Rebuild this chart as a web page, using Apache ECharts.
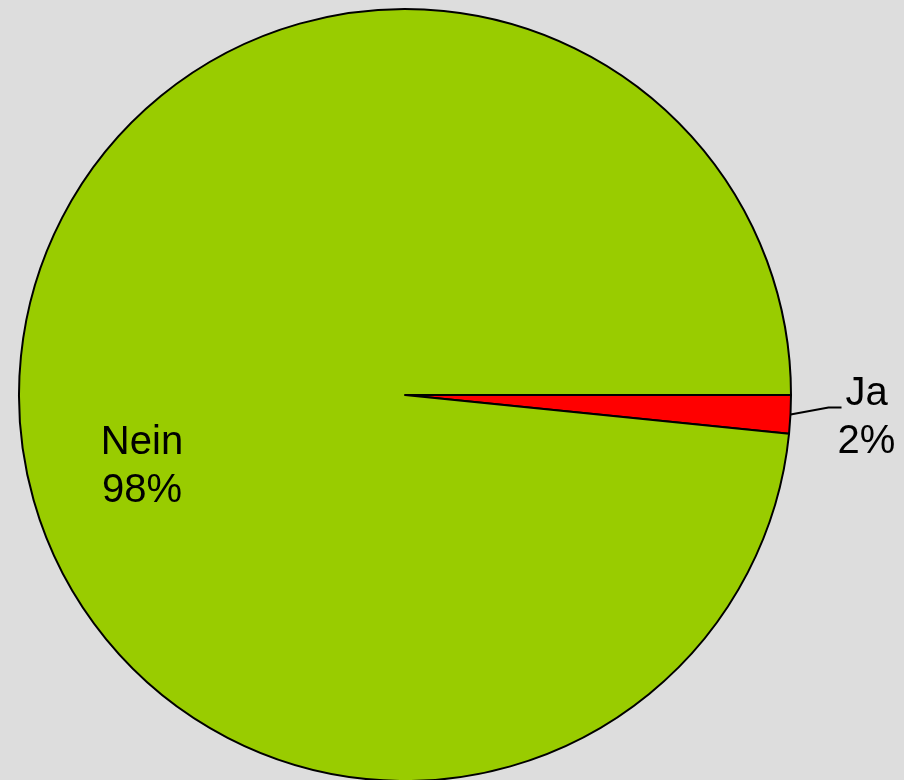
<!DOCTYPE html>
<html>
<head>
<meta charset="utf-8">
<style>
  html, body { margin: 0; padding: 0; background: #dddddd; }
  #chart { width: 904px; height: 780px; }
</style>
<script src="https://cdn.jsdelivr.net/npm/echarts@6/dist/echarts.min.js"></script>
</head>
<body>
<div id="chart"></div>
<script>
// Answers and their shares
const categories = ['Ja', 'Nein'];
const shares = [1.6, 98.4];
const sliceColors = ['#ff0000', '#99cc00'];

const chart = echarts.init(document.getElementById('chart'), null, { renderer: 'canvas' });

const fontFamily = 'Liberation Sans, Arial, sans-serif';

chart.setOption({
  backgroundColor: '#dddddd',
  animation: false,
  series: [{
    type: 'pie',
    center: [405, 395],
    radius: 386,
    startAngle: 0,
    clockwise: true,
    avoidLabelOverlap: false,
    data: categories.map((name, i) => ({
      name,
      value: shares[i],
      itemStyle: { color: sliceColors[i] },
      label: i === 1
        ? { position: 'inside' }
        : { position: 'outside' }
    })),
    itemStyle: { borderColor: '#000000', borderWidth: 2 },
    label: {
      show: true,
      formatter: p => p.name + '\n' + Math.round(p.percent) + '%',
      color: '#000000',
      fontFamily,
      fontSize: 40,
      lineHeight: 48,
      align: 'center'
    },
    labelLine: {
      show: true,
      length: 38,
      length2: 13,
      lineStyle: { color: '#000000', width: 2 }
    },
    labelLayout: function (params) {
      if (params.dataIndex === 1) {
        // large slice: label sits inside, lower left
        return { x: 142, y: 467, align: 'center', verticalAlign: 'middle' };
      }
      // small slice: leader bends slightly upward, text centred after it
      const p0 = params.labelLinePoints ? params.labelLinePoints[0] : [792, 414];
      const bend = [p0[0] + 38, p0[1] - 7];
      const end = [p0[0] + 51, p0[1] - 7];
      return {
        x: p0[0] + 76,
        y: p0[1] + 4,
        align: 'center',
        verticalAlign: 'middle',
        labelLinePoints: [p0, bend, end]
      };
    },
    emphasis: { disabled: true }
  }]
});
</script>
</body>
</html>
